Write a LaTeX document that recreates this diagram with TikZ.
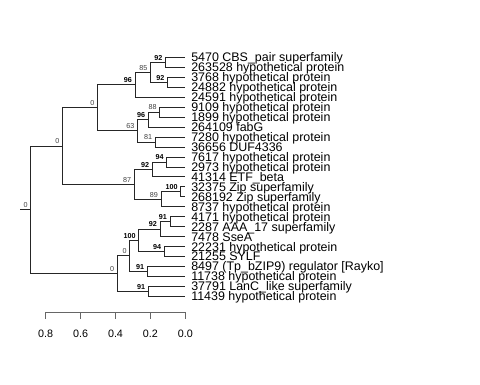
\documentclass[tikz,border=0pt]{standalone}
\usepackage{fontspec}
\setmainfont{Liberation Sans}

\begin{document}
\begin{tikzpicture}[
  x=1bp,
  y=-1bp,
  line join=miter,
  branch/.style={draw=black!85,line width=0.9bp},
  leaf/.style={anchor=west,inner sep=0pt,text height=8.9bp,text depth=0pt,
    font=\fontsize{12.5}{12.5}\selectfont},
  boot/.style={anchor=south east,inner xsep=3bp,inner ysep=2bp,
    font=\fontsize{7.2}{7.2}\selectfont\bfseries},
  weak/.style={boot,text=black!75,font=\fontsize{7.2}{7.2}\selectfont},
  scalebar/.style={draw=black!60,line width=0.9bp},
  ticklab/.style={anchor=center,inner sep=0pt,text height=7.5bp,text depth=0pt,
    font=\fontsize{10.8}{10.8}\selectfont}
]
  \useasboundingbox (0,0) rectangle (480,384);

  % Tips all sit at depth 0.0, one row per sequence.
  \foreach \i in {1,...,25} {
    \coordinate (L\i) at (185.3,57.5+9.95*\i-9.95);
  }

  % Inner nodes: x from the depth scale, y halfway between the two children.
  \coordinate (stub) at (20,209.86);
  \coordinate (root) at (30.7,209.86);
  \coordinate (n1x16) at (62.5,146.12);
  \coordinate (n1x10) at (97.5,107.87);
  \coordinate (n1x5) at (135,84.86);
  \coordinate (n1x4) at (150.5,72.43);
  \coordinate (n1x2) at (165.5,62.48);
  \coordinate (n3x4) at (167.5,82.38);
  \coordinate (n6x10) at (137.5,130.88);
  \coordinate (n6x8) at (148.3,119.69);
  \coordinate (n6x7) at (159.7,112.23);
  \coordinate (n9x10) at (155.3,142.08);
  \coordinate (n11x16) at (134.3,184.37);
  \coordinate (n11x13) at (152.3,169.44);
  \coordinate (n11x12) at (166.7,161.98);
  \coordinate (n14x16) at (161,199.29);
  \coordinate (n14x15) at (180.8,191.83);
  \coordinate (n17x25) at (117.3,273.6);
  \coordinate (n17x23) at (129.7,255.88);
  \coordinate (n17x21) at (138.8,240.33);
  \coordinate (n17x19) at (160,229.14);
  \coordinate (n17x18) at (170,221.68);
  \coordinate (n20x21) at (164.2,251.53);
  \coordinate (n22x23) at (147.3,271.43);
  \coordinate (n24x25) at (148.3,291.33);

  % Rectangular branches, parent to child.
  \draw[branch] (stub) -- (root);
  \foreach \p/\c in {root/n1x16,root/n17x25,
      n1x16/n1x10,n1x16/n11x16,n1x10/n1x5,n1x10/n6x10,
      n1x5/n1x4,n1x5/L5,n1x4/n1x2,n1x4/n3x4,n1x2/L1,n1x2/L2,n3x4/L3,n3x4/L4,
      n6x10/n6x8,n6x10/n9x10,n6x8/n6x7,n6x8/L8,n6x7/L6,n6x7/L7,n9x10/L9,n9x10/L10,
      n11x16/n11x13,n11x16/n14x16,n11x13/n11x12,n11x13/L13,n11x12/L11,n11x12/L12,
      n14x16/n14x15,n14x16/L16,n14x15/L14,n14x15/L15,
      n17x25/n17x23,n17x25/n24x25,n17x23/n17x21,n17x23/n22x23,
      n17x21/n17x19,n17x21/n20x21,n17x19/n17x18,n17x19/L19,n17x18/L17,n17x18/L18,
      n20x21/L20,n20x21/L21,n22x23/L22,n22x23/L23,n24x25/L24,n24x25/L25} {
    \draw[branch] (\p) |- (\c);
  }

  % Support values: bold when 90 or more.
  \foreach \p/\v in {n1x5/96,n1x2/92,n3x4/92,n6x8/96,n11x13/92,n11x12/94,
      n14x15/100,n17x21/100,n17x19/92,n17x18/91,n20x21/94,n22x23/91,n24x25/91} {
    \node[boot] (lb\p) at (\p) {\v};
  }
  \foreach \p/\v in {root/0,n1x16/0,n1x10/0,n1x4/85,n6x10/63,n6x7/88,n9x10/81,
      n11x16/87,n14x16/89,n17x25/0,n17x23/0} {
    \node[weak] (lb\p) at (\p) {\v};
  }

  % Tip labels
  \foreach \i/\txt in {1/{5470 CBS\_pair superfamily},2/{263528 hypothetical protein},
      3/{3768 hypothetical protein},4/{24882 hypothetical protein},
      5/{24591 hypothetical protein},6/{9109 hypothetical protein},
      7/{1899 hypothetical protein},8/{264109 fabG},9/{7280 hypothetical protein},
      10/{36656 DUF4336},11/{7617 hypothetical protein},12/{2973 hypothetical protein},
      13/{41314 ETF\_beta},14/{32375 Zip superfamily},15/{268192 Zip superfamily},
      16/{8737 hypothetical protein},17/{4171 hypothetical protein},
      18/{2287 AAA\_17 superfamily},19/{7478 SseA},20/{22231 hypothetical protein},
      21/{21255 SYLF},22/{8497 (Tp\_bZIP9) regulator [Rayko]},
      23/{11738 hypothetical protein},24/{37791 LanC\_like superfamily},
      25/{11439 hypothetical protein}} {
    \node[leaf] (T\i) at ([xshift=5.8bp]L\i) {\txt};
  }

  % Depth scale
  \draw[scalebar] (45.7,312.3) -- (185.3,312.3);
  \foreach \x/\v [count=\k] in {45.7/0.8,80.6/0.6,115.5/0.4,150.4/0.2,185.3/0.0} {
    \draw[scalebar] (\x,312.3) -- (\x,319);
    \node[ticklab] (tk\k) at (\x,333.7) {\v};
  }
\end{tikzpicture}
\end{document}
